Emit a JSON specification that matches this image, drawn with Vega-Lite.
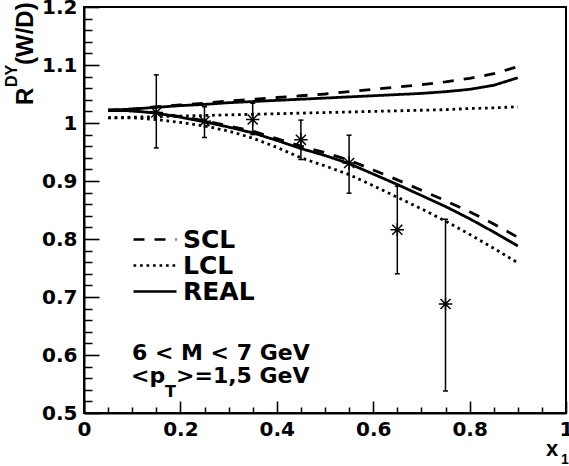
{
  "$schema": "https://vega.github.io/schema/vega-lite/v6.json",
  "autosize": "none",
  "width": 482,
  "height": 406,
  "padding": {"left": 84, "top": 7, "right": 3, "bottom": 53},
  "background": "white",
  "datasets": {
    "curves": [
      {"m":"REAL","b":"up","x":0.05,"y":1.022},{"m":"REAL","b":"up","x":0.1,"y":1.024},{"m":"REAL","b":"up","x":0.15,"y":1.027},{"m":"REAL","b":"up","x":0.2,"y":1.030},{"m":"REAL","b":"up","x":0.25,"y":1.032},{"m":"REAL","b":"up","x":0.3,"y":1.035},{"m":"REAL","b":"up","x":0.35,"y":1.037},{"m":"REAL","b":"up","x":0.4,"y":1.039},{"m":"REAL","b":"up","x":0.45,"y":1.041},{"m":"REAL","b":"up","x":0.5,"y":1.043},{"m":"REAL","b":"up","x":0.55,"y":1.045},{"m":"REAL","b":"up","x":0.6,"y":1.047},{"m":"REAL","b":"up","x":0.65,"y":1.049},{"m":"REAL","b":"up","x":0.7,"y":1.051},{"m":"REAL","b":"up","x":0.75,"y":1.054},{"m":"REAL","b":"up","x":0.8,"y":1.058},{"m":"REAL","b":"up","x":0.85,"y":1.065},{"m":"REAL","b":"up","x":0.9,"y":1.078},
      {"m":"SCL","b":"up","x":0.05,"y":1.022},{"m":"SCL","b":"up","x":0.1,"y":1.024},{"m":"SCL","b":"up","x":0.15,"y":1.028},{"m":"SCL","b":"up","x":0.2,"y":1.031},{"m":"SCL","b":"up","x":0.25,"y":1.034},{"m":"SCL","b":"up","x":0.3,"y":1.038},{"m":"SCL","b":"up","x":0.35,"y":1.041},{"m":"SCL","b":"up","x":0.4,"y":1.044},{"m":"SCL","b":"up","x":0.45,"y":1.047},{"m":"SCL","b":"up","x":0.5,"y":1.050},{"m":"SCL","b":"up","x":0.55,"y":1.054},{"m":"SCL","b":"up","x":0.6,"y":1.058},{"m":"SCL","b":"up","x":0.65,"y":1.062},{"m":"SCL","b":"up","x":0.7,"y":1.066},{"m":"SCL","b":"up","x":0.75,"y":1.071},{"m":"SCL","b":"up","x":0.8,"y":1.077},{"m":"SCL","b":"up","x":0.85,"y":1.085},{"m":"SCL","b":"up","x":0.9,"y":1.097},
      {"m":"LCL","b":"up","x":0.05,"y":1.009},{"m":"LCL","b":"up","x":0.1,"y":1.010},{"m":"LCL","b":"up","x":0.15,"y":1.011},{"m":"LCL","b":"up","x":0.2,"y":1.012},{"m":"LCL","b":"up","x":0.25,"y":1.013},{"m":"LCL","b":"up","x":0.3,"y":1.014},{"m":"LCL","b":"up","x":0.35,"y":1.015},{"m":"LCL","b":"up","x":0.4,"y":1.016},{"m":"LCL","b":"up","x":0.45,"y":1.017},{"m":"LCL","b":"up","x":0.5,"y":1.018},{"m":"LCL","b":"up","x":0.55,"y":1.019},{"m":"LCL","b":"up","x":0.6,"y":1.020},{"m":"LCL","b":"up","x":0.65,"y":1.021},{"m":"LCL","b":"up","x":0.7,"y":1.022},{"m":"LCL","b":"up","x":0.75,"y":1.023},{"m":"LCL","b":"up","x":0.8,"y":1.025},{"m":"LCL","b":"up","x":0.85,"y":1.026},{"m":"LCL","b":"up","x":0.9,"y":1.028},
      {"m":"REAL","b":"low","x":0.05,"y":1.022},{"m":"REAL","b":"low","x":0.1,"y":1.021},{"m":"REAL","b":"low","x":0.15,"y":1.017},{"m":"REAL","b":"low","x":0.2,"y":1.010},{"m":"REAL","b":"low","x":0.25,"y":1.002},{"m":"REAL","b":"low","x":0.3,"y":0.993},{"m":"REAL","b":"low","x":0.35,"y":0.983},{"m":"REAL","b":"low","x":0.4,"y":0.970},{"m":"REAL","b":"low","x":0.45,"y":0.956},{"m":"REAL","b":"low","x":0.5,"y":0.944},{"m":"REAL","b":"low","x":0.55,"y":0.930},{"m":"REAL","b":"low","x":0.6,"y":0.912},{"m":"REAL","b":"low","x":0.65,"y":0.894},{"m":"REAL","b":"low","x":0.7,"y":0.875},{"m":"REAL","b":"low","x":0.75,"y":0.856},{"m":"REAL","b":"low","x":0.8,"y":0.835},{"m":"REAL","b":"low","x":0.85,"y":0.812},{"m":"REAL","b":"low","x":0.9,"y":0.788},
      {"m":"SCL","b":"low","x":0.05,"y":1.022},{"m":"SCL","b":"low","x":0.1,"y":1.021},{"m":"SCL","b":"low","x":0.15,"y":1.018},{"m":"SCL","b":"low","x":0.2,"y":1.011},{"m":"SCL","b":"low","x":0.25,"y":1.004},{"m":"SCL","b":"low","x":0.3,"y":0.995},{"m":"SCL","b":"low","x":0.35,"y":0.986},{"m":"SCL","b":"low","x":0.4,"y":0.973},{"m":"SCL","b":"low","x":0.45,"y":0.960},{"m":"SCL","b":"low","x":0.5,"y":0.949},{"m":"SCL","b":"low","x":0.55,"y":0.936},{"m":"SCL","b":"low","x":0.6,"y":0.919},{"m":"SCL","b":"low","x":0.65,"y":0.902},{"m":"SCL","b":"low","x":0.7,"y":0.884},{"m":"SCL","b":"low","x":0.75,"y":0.866},{"m":"SCL","b":"low","x":0.8,"y":0.847},{"m":"SCL","b":"low","x":0.85,"y":0.826},{"m":"SCL","b":"low","x":0.9,"y":0.803},
      {"m":"LCL","b":"low","x":0.05,"y":1.009},{"m":"LCL","b":"low","x":0.1,"y":1.009},{"m":"LCL","b":"low","x":0.15,"y":1.006},{"m":"LCL","b":"low","x":0.2,"y":1.001},{"m":"LCL","b":"low","x":0.25,"y":0.995},{"m":"LCL","b":"low","x":0.3,"y":0.986},{"m":"LCL","b":"low","x":0.35,"y":0.974},{"m":"LCL","b":"low","x":0.4,"y":0.958},{"m":"LCL","b":"low","x":0.45,"y":0.940},{"m":"LCL","b":"low","x":0.5,"y":0.926},{"m":"LCL","b":"low","x":0.55,"y":0.911},{"m":"LCL","b":"low","x":0.6,"y":0.892},{"m":"LCL","b":"low","x":0.65,"y":0.872},{"m":"LCL","b":"low","x":0.7,"y":0.852},{"m":"LCL","b":"low","x":0.75,"y":0.831},{"m":"LCL","b":"low","x":0.8,"y":0.808},{"m":"LCL","b":"low","x":0.85,"y":0.784},{"m":"LCL","b":"low","x":0.9,"y":0.759}
    ],
    "points": [
      {"x":0.15,"y":1.018,"lo":0.957,"hi":1.083},
      {"x":0.25,"y":1.003,"lo":0.975,"hi":1.028},
      {"x":0.35,"y":1.006,"lo":0.980,"hi":1.034},
      {"x":0.45,"y":0.971,"lo":0.937,"hi":1.005},
      {"x":0.55,"y":0.931,"lo":0.879,"hi":0.979},
      {"x":0.65,"y":0.816,"lo":0.740,"hi":0.891},
      {"x":0.75,"y":0.688,"lo":0.538,"hi":0.834}
    ]
  },
  "layer": [
    {
      "data": {"name": "curves"},
      "mark": {"type": "line", "color": "black", "strokeWidth": 2.8, "clip": true},
      "encoding": {
        "x": {"field": "x", "type": "quantitative", "scale": {"domain": [0, 1], "nice": false, "zero": false},
              "axis": {"orient": "bottom", "values": [0, 0.2, 0.4, 0.6, 0.8, 1], "format": "~g", "ticks": true, "tickSize": -12, "tickColor": "black", "tickWidth": 1.6, "labelPadding": 18, "labelFlush": false, "labelOverlap": false, "title": null, "zindex": 1}},
        "y": {"field": "y", "type": "quantitative", "scale": {"domain": [0.5, 1.2], "nice": false, "zero": false},
              "axis": {"orient": "left", "values": [0.5, 0.6, 0.7, 0.8, 0.9, 1, 1.1, 1.2], "format": "~g", "ticks": true, "tickSize": -15, "tickColor": "black", "tickWidth": 1.6, "labelPadding": 22, "labelFlush": false, "labelOverlap": false, "title": null, "zindex": 1}},
        "strokeDash": {"field": "m", "type": "nominal",
              "scale": {"domain": ["SCL", "LCL", "REAL"], "range": [[11, 10], [2.7, 3.8], [1, 0]]},
              "legend": {"orient": "none", "legendX": 48, "legendY": 222, "title": null, "symbolType": "stroke", "symbolSize": 1849, "symbolStrokeWidth": 2.5, "symbolStrokeColor": "black", "labelFont": "DejaVu Sans", "labelFontSize": 25, "labelFontWeight": "bold", "labelColor": "black", "labelOffset": 5, "rowPadding": 0, "clipHeight": 21, "padding": 0}},
        "detail": {"field": "b", "type": "nominal"}
      }
    },
    {
      "data": {"name": "points"},
      "mark": {"type": "rule", "color": "black", "strokeWidth": 1.5},
      "encoding": {
        "x": {"field": "x", "type": "quantitative",
              "axis": {"orient": "bottom", "values": [0.05, 0.1, 0.15, 0.25, 0.3, 0.35, 0.45, 0.5, 0.55, 0.65, 0.7, 0.75, 0.85, 0.9, 0.95], "ticks": true, "tickSize": -6, "tickColor": "black", "tickWidth": 1.5, "labels": false, "domain": false, "title": null, "zindex": 1}},
        "y": {"field": "lo", "type": "quantitative",
              "axis": {"orient": "left", "values": [0.52, 0.54, 0.56, 0.58, 0.62, 0.64, 0.66, 0.68, 0.72, 0.74, 0.76, 0.78, 0.82, 0.84, 0.86, 0.88, 0.92, 0.94, 0.96, 0.98, 1.02, 1.04, 1.06, 1.08, 1.12, 1.14, 1.16, 1.18], "ticks": true, "tickSize": -8, "tickColor": "black", "tickWidth": 1.5, "labels": false, "domain": false, "title": null, "zindex": 1}},
        "y2": {"field": "hi"}
      }
    },
    {
      "data": {"name": "points"},
      "mark": {"type": "point", "shape": "M-1,0L1,0", "size": 25, "filled": false, "color": "black", "strokeWidth": 1.5, "opacity": 1},
      "encoding": {
        "x": {"field": "x", "type": "quantitative", "axis": null},
        "y": {"field": "lo", "type": "quantitative", "axis": null}
      }
    },
    {
      "data": {"name": "points"},
      "mark": {"type": "point", "shape": "M-1,0L1,0", "size": 25, "filled": false, "color": "black", "strokeWidth": 1.5, "opacity": 1},
      "encoding": {
        "x": {"field": "x", "type": "quantitative", "axis": null},
        "y": {"field": "hi", "type": "quantitative", "axis": null}
      }
    },
    {
      "data": {"name": "points"},
      "mark": {"type": "point", "shape": "M-1,0L1,0M0,-1L0,1M-0.75,-0.75L0.75,0.75M-0.75,0.75L0.75,-0.75", "size": 180, "filled": false, "color": "black", "strokeWidth": 1.5, "opacity": 1},
      "encoding": {
        "x": {"field": "x", "type": "quantitative", "axis": null},
        "y": {"field": "y", "type": "quantitative", "axis": null}
      }
    },
    {
      "data": {"values": [{}]},
      "mark": {"type": "text", "text": "6 < M < 7 GeV", "font": "DejaVu Sans", "fontSize": 22, "fontWeight": "bold", "align": "left", "baseline": "alphabetic", "color": "black"},
      "encoding": {
        "x": {"datum": 0.0996, "type": "quantitative", "axis": null},
        "y": {"datum": 0.5914, "type": "quantitative", "axis": null}
      }
    },
    {
      "data": {"values": [{}]},
      "mark": {"type": "text", "text": "<p", "font": "DejaVu Sans", "fontSize": 22, "fontWeight": "bold", "align": "left", "baseline": "alphabetic", "color": "black"},
      "encoding": {
        "x": {"datum": 0.0975, "type": "quantitative", "axis": null},
        "y": {"datum": 0.5517, "type": "quantitative", "axis": null}
      }
    },
    {
      "data": {"values": [{}]},
      "mark": {"type": "text", "text": "T", "font": "DejaVu Sans", "fontSize": 16, "fontWeight": "bold", "align": "left", "baseline": "alphabetic", "color": "black"},
      "encoding": {
        "x": {"datum": 0.168, "type": "quantitative", "axis": null},
        "y": {"datum": 0.5276, "type": "quantitative", "axis": null}
      }
    },
    {
      "data": {"values": [{}]},
      "mark": {"type": "text", "text": ">=1,5 GeV", "font": "DejaVu Sans", "fontSize": 22, "fontWeight": "bold", "align": "left", "baseline": "alphabetic", "color": "black"},
      "encoding": {
        "x": {"datum": 0.1909, "type": "quantitative", "axis": null},
        "y": {"datum": 0.5517, "type": "quantitative", "axis": null}
      }
    },
    {
      "data": {"values": [{}]},
      "mark": {"type": "text", "text": "R", "font": "Liberation Sans", "fontSize": 24, "fontWeight": "bold", "align": "left", "baseline": "alphabetic", "angle": 270, "color": "black"},
      "encoding": {
        "x": {"datum": -0.1058, "type": "quantitative", "axis": null},
        "y": {"datum": 1.031, "type": "quantitative", "axis": null}
      }
    },
    {
      "data": {"values": [{}]},
      "mark": {"type": "text", "text": "DY", "font": "Liberation Sans", "fontSize": 16, "fontWeight": "bold", "align": "left", "baseline": "alphabetic", "angle": 270, "color": "black"},
      "encoding": {
        "x": {"datum": -0.139, "type": "quantitative", "axis": null},
        "y": {"datum": 1.062, "type": "quantitative", "axis": null}
      }
    },
    {
      "data": {"values": [{}]},
      "mark": {"type": "text", "text": "(W/D)", "font": "Liberation Sans", "fontSize": 24, "fontWeight": "bold", "align": "left", "baseline": "alphabetic", "angle": 270, "color": "black"},
      "encoding": {
        "x": {"datum": -0.1058, "type": "quantitative", "axis": null},
        "y": {"datum": 1.1, "type": "quantitative", "axis": null}
      }
    },
    {
      "data": {"values": [{}]},
      "mark": {"type": "text", "text": "x", "font": "Liberation Sans", "fontSize": 22, "fontWeight": "bold", "align": "left", "baseline": "alphabetic", "color": "black"},
      "encoding": {
        "x": {"datum": 0.9585, "type": "quantitative", "axis": null},
        "y": {"datum": 0.4265, "type": "quantitative", "axis": null}
      }
    },
    {
      "data": {"values": [{}]},
      "mark": {"type": "text", "text": "1", "font": "Liberation Sans", "fontSize": 14, "fontWeight": "bold", "align": "left", "baseline": "alphabetic", "color": "black"},
      "encoding": {
        "x": {"datum": 0.9896, "type": "quantitative", "axis": null},
        "y": {"datum": 0.4125, "type": "quantitative", "axis": null}
      }
    }
  ],
  "resolve": {"axis": {"x": "independent", "y": "independent"}},
  "config": {
    "font": "DejaVu Sans",
    "view": {"stroke": "black", "strokeWidth": 2},
    "axis": {"domainColor": "black", "domainWidth": 2, "labelColor": "black", "labelFont": "DejaVu Sans", "labelFontSize": 20, "labelFontWeight": "bold", "grid": false}
  }
}
